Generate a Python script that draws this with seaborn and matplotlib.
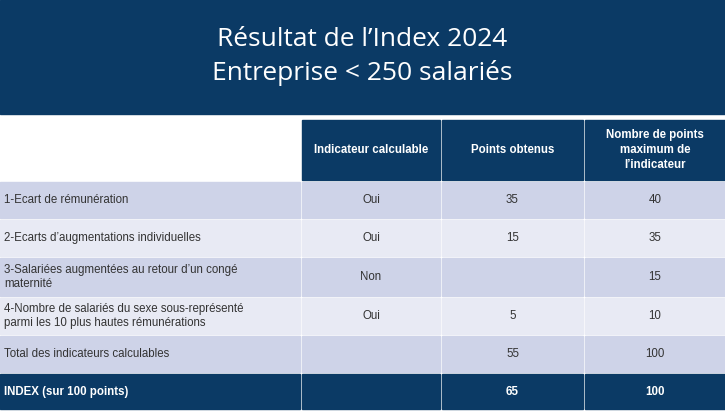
import matplotlib.pyplot as plt
from matplotlib.patches import Rectangle
import seaborn as sns

title_lines = ["Résultat de l’Index 2024", "Entreprise < 250 salariés"]
col_headers = ["", "Indicateur calculable", "Points obtenus",
               "Nombre de points\nmaximum de\nl’indicateur"]
row_labels = [
    "1-Ecart de rémunération",
    "2-Ecarts d’augmentations individuelles",
    "3-Salariées augmentées au retour d’un congé\nmaternité",
    "4-Nombre de salariés du sexe sous-représenté\nparmi les 10 plus hautes rémunérations",
    "Total des indicateurs calculables",
    "INDEX (sur 100 points)",
]
calculable = ["Oui", "Oui", "Non", "Oui", "", ""]
points = ["35", "15", "", "5", "55", "65"]
max_points = ["40", "35", "15", "10", "100", "100"]

navy = "#0b3a65"
dark_row = "#ced3e8"
light_row = "#e8eaf4"

sns.set_theme(style="white")
fig = plt.figure(figsize=(7.25, 4.11), dpi=100)
ax = fig.add_axes([0, 0, 1, 1])
ax.set_xlim(0, 725)
ax.set_ylim(411, 0)
ax.axis("off")

# title band
ax.add_patch(Rectangle((0, 0), 725, 114, color=navy))
ax.text(362, 40, title_lines[0], color="white", fontsize=19, family="Open Sans",
        ha="center", va="center")
ax.text(362, 73, title_lines[1], color="white", fontsize=19, family="Open Sans",
        ha="center", va="center")

col_x = [0, 302, 442, 585, 725]
gap = 2
header_top, header_bot = 120, 180
row_edges = [182, 220, 258, 298, 336, 374, 411]

# header row
for j, h in enumerate(col_headers):
    x0, x1 = col_x[j], col_x[j + 1] - (gap if j < 3 else 0)
    if j > 0:
        ax.add_patch(Rectangle((x0, header_top), x1 - x0, header_bot - header_top, color=navy))
        ax.text((x0 + x1) / 2, (header_top + header_bot) / 2, h, color="white",
                fontsize=8.3, fontweight="bold", family="Liberation Sans",
                ha="center", va="center", linespacing=1.35)

# body rows
for i, lab in enumerate(row_labels):
    y0, y1 = row_edges[i], row_edges[i + 1] - gap
    last = i == len(row_labels) - 1
    fill = navy if last else (dark_row if i % 2 == 0 else light_row)
    tc = "white" if last else "#333333"
    fw = "bold" if last else "normal"
    vals = [lab, calculable[i], points[i], max_points[i]]
    for j, v in enumerate(vals):
        x0, x1 = col_x[j], col_x[j + 1] - (gap if j < 3 else 0)
        ax.add_patch(Rectangle((x0, y0), x1 - x0, y1 - y0, color=fill))
        if j == 0:
            ax.text(x0 + 4, (y0 + y1) / 2, v, color=tc, fontsize=8.3, fontweight=fw,
                    family="Liberation Sans", ha="left", va="center", linespacing=1.3)
        else:
            ax.text((x0 + x1) / 2, (y0 + y1) / 2, v, color=tc, fontsize=8.3,
                    fontweight=fw, family="Liberation Sans", ha="center", va="center")

fig.savefig("out.png", dpi=100)
